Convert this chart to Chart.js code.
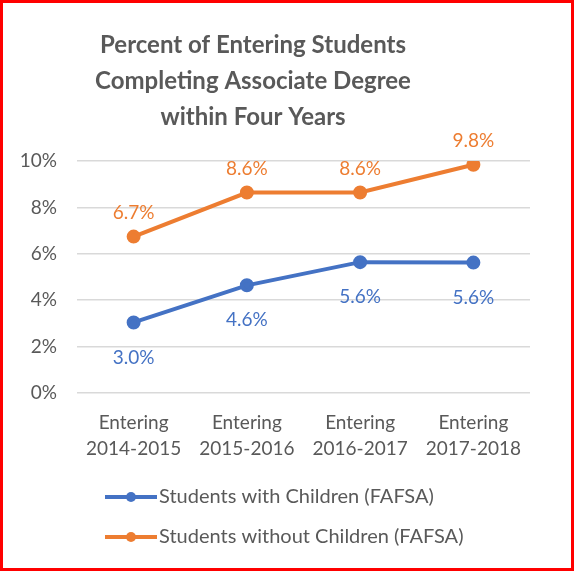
<!DOCTYPE html>
<html>
<head>
<meta charset="utf-8">
<script src="https://cdn.jsdelivr.net/npm/chart.js@4/dist/chart.umd.min.js"></script>
<style>
  html, body { margin: 0; padding: 0; background: #fff; }
  #box { width: 574px; height: 571px; box-sizing: border-box; border: 3px solid #ff0000; background: #fff; }
  #box canvas { display: block; }
</style>
</head>
<body>
<div id="box"><canvas id="lineChart" width="568" height="565"></canvas></div>
<script>
var titleLines = ['Percent of Entering Students', 'Completing Associate Degree', 'within Four Years'];
var categories = [['Entering', '2014-2015'], ['Entering', '2015-2016'], ['Entering', '2016-2017'], ['Entering', '2017-2018']];
var withChildren = [3.04, 4.64, 5.64, 5.62];
var withoutChildren = [6.74, 8.64, 8.64, 9.84];
var seriesNames = ['Students with Children (FAFSA)', 'Students without Children (FAFSA)'];
var yTicks = [0, 2, 4, 6, 8, 10];

var textGray = '#595959';
var fontName = 'Lato, "Noto Sans", sans-serif';

// title drawn a bit left of centre, like the original
var titlePlugin = {
    id: 'titleText',
    afterDraw: function (chart) {
        var ctx = chart.ctx;
        ctx.save();
        ctx.font = 'bold 24px ' + fontName;
        ctx.fillStyle = textGray;
        ctx.textAlign = 'center';
        ctx.textBaseline = 'middle';
        var ys = [42, 78, 114];
        titleLines.forEach(function (t, i) {
            ctx.fillText(t, 250, ys[i]);
        });
        ctx.restore();
    }
};

// value labels: orange above, blue below
var valueLabels = {
    id: 'valueLabels',
    afterDatasetsDraw: function (chart) {
        var ctx = chart.ctx;
        ctx.save();
        ctx.font = '19px ' + fontName;
        ctx.textAlign = 'center';
        ctx.textBaseline = 'middle';
        chart.data.datasets.forEach(function (ds, di) {
            var meta = chart.getDatasetMeta(di);
            ctx.fillStyle = ds.borderColor;
            meta.data.forEach(function (pt, i) {
                var dy = ds.labelAbove ? -24 : 35;
                ctx.fillText(ds.data[i].toFixed(1) + '%', pt.x, pt.y + dy);
            });
        });
        ctx.restore();
    }
};

// legend stacked in two rows, line + marker
var legendRows = {
    id: 'legendRows',
    afterDraw: function (chart) {
        var ctx = chart.ctx;
        var ys = [494, 534];
        ctx.save();
        chart.data.datasets.forEach(function (ds, i) {
            var y = ys[i];
            ctx.strokeStyle = ds.borderColor;
            ctx.lineWidth = 4;
            ctx.beginPath();
            ctx.moveTo(102, y);
            ctx.lineTo(154, y);
            ctx.stroke();
            ctx.fillStyle = ds.borderColor;
            ctx.beginPath();
            ctx.arc(128, y, 5, 0, Math.PI * 2);
            ctx.fill();
            ctx.fillStyle = textGray;
            ctx.font = '20px ' + fontName;
            ctx.textAlign = 'left';
            ctx.textBaseline = 'middle';
            ctx.fillText(ds.label, 156, y);
        });
        ctx.restore();
    }
};

var LineData = {
    labels: categories,
    datasets: [{
        label: seriesNames[0],
        data: withChildren,
        borderColor: '#4472C4',
        backgroundColor: '#4472C4',
        borderWidth: 4,
        pointRadius: 5,
        pointHoverRadius: 5,
        labelAbove: false
    }, {
        label: seriesNames[1],
        data: withoutChildren,
        borderColor: '#ED7D31',
        backgroundColor: '#ED7D31',
        borderWidth: 4,
        pointRadius: 5,
        pointHoverRadius: 5,
        labelAbove: true
    }]
};

var LineConfig = {
    type: 'line',
    data: LineData,
    options: {
        responsive: false,
        animation: false,
        layout: { padding: { top: 158, left: 18, right: 41, bottom: 89 } },
        plugins: {
            legend: { display: false },
            title: { display: false },
            tooltip: { enabled: false }
        },
        scales: {
            x: {
                offset: true,
                grid: { display: false, drawTicks: false },
                border: { display: false },
                ticks: {
                    color: textGray,
                    padding: 17,
                    font: { family: fontName, size: 19, lineHeight: 1.37 },
                    maxRotation: 0
                }
            },
            y: {
                min: 0,
                max: 10,
                afterFit: function (scale) { scale.width = 56; },
                afterBuildTicks: function (scale) {
                    scale.ticks = yTicks.map(function (v) { return { value: v }; });
                },
                grid: { color: '#D9D9D9', lineWidth: 1.5, drawTicks: false },
                border: { display: false },
                ticks: {
                    color: textGray,
                    padding: 20,
                    font: { family: fontName, size: 19 },
                    callback: function (v) { return v + '%'; }
                }
            }
        }
    },
    plugins: [titlePlugin, valueLabels, legendRows]
};

var lineChart = new Chart(
    document.getElementById('lineChart'),
    LineConfig
);
</script>
</body>
</html>
